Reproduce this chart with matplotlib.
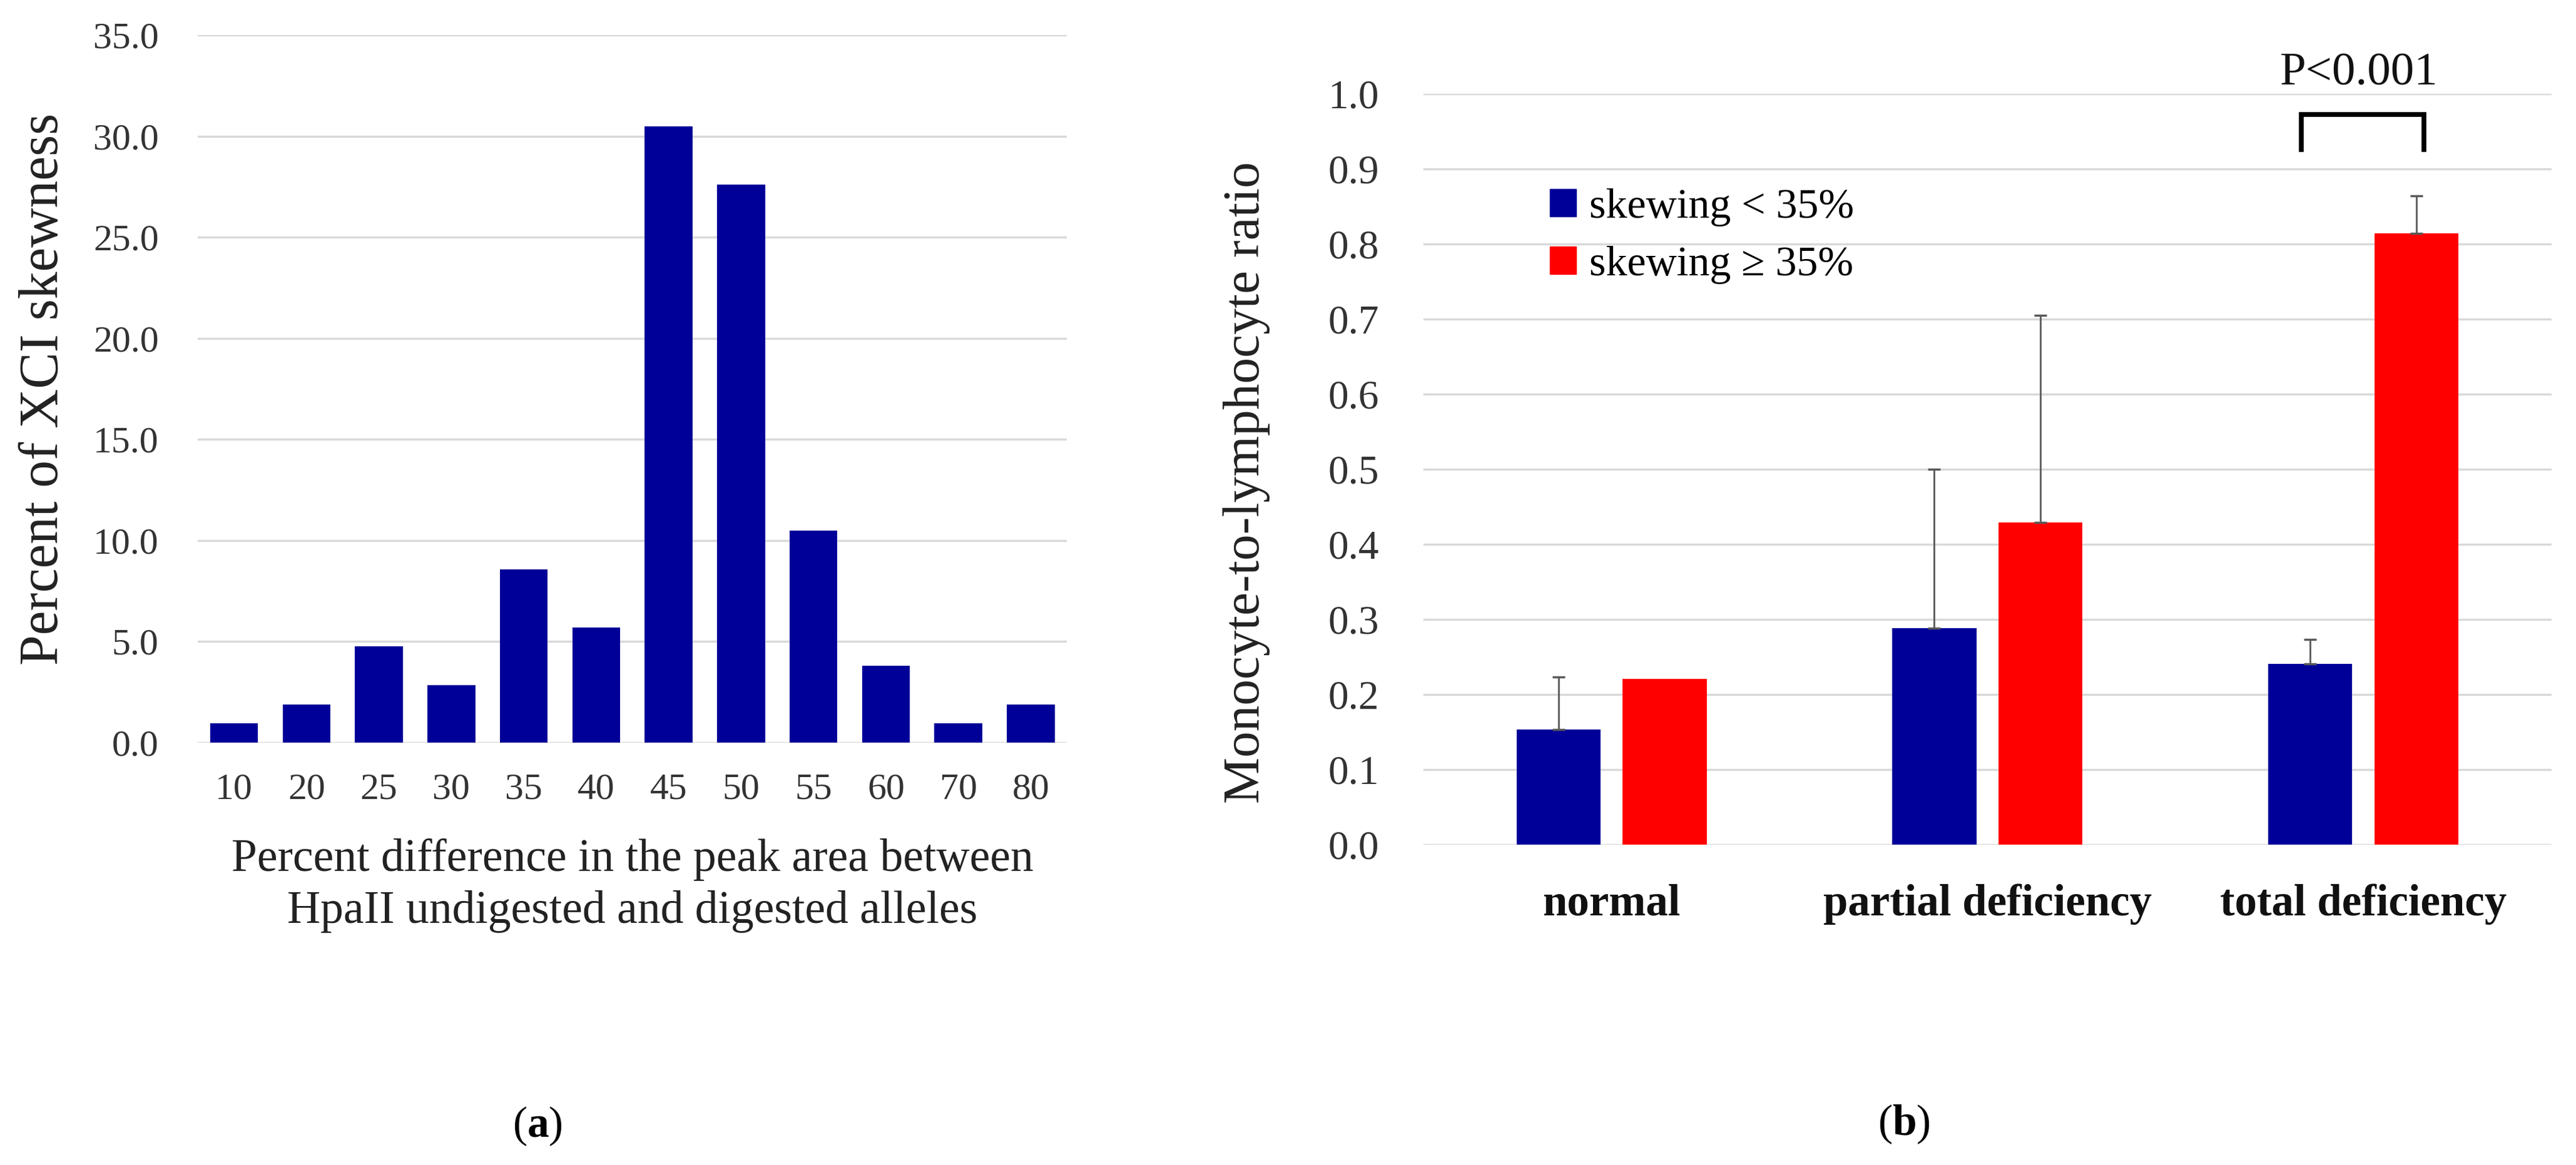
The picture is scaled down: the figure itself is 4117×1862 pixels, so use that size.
import matplotlib
matplotlib.use("Agg")
import matplotlib.pyplot as plt
from matplotlib.patches import Patch
import numpy as np

plt.rcParams['font.family'] = ['Liberation Serif', 'DejaVu Serif']
plt.rcParams['mathtext.fontset'] = 'custom'
plt.rcParams['mathtext.rm'] = 'Liberation Serif'
plt.rcParams['mathtext.bf'] = 'Liberation Serif:bold'

BLUE = '#000099'
RED = '#ff0000'
GRID = '#d9d9d9'

# (a) distribution of XCI skewness
skew_bins = ['10', '20', '25', '30', '35', '40', '45', '50', '55', '60', '70', '80']
skew_pct = [0.95, 1.90, 4.76, 2.86, 8.57, 5.71, 30.48, 27.62, 10.48, 3.81, 0.95, 1.90]

# (b) monocyte-to-lymphocyte ratio by G6PD status
groups = ['normal', 'partial deficiency', 'total deficiency']
low_mean = [0.153, 0.288, 0.241]
low_err = [0.070, 0.212, 0.032]
high_mean = [0.221, 0.429, 0.814]
high_err = [0.0, 0.276, 0.050]
legend_labels = ['skewing < 35%', 'skewing \u2265 35%']
p_text = 'P<0.001'
bracket_x = [1.835, 2.16]
bracket_y = [0.926, 0.972]

fig = plt.figure(figsize=(41.17, 18.62), dpi=100)

# ---- panel a ----
ax1 = fig.add_axes([0.0768, 0.3625, 0.3374, 0.6074])
x1 = np.arange(len(skew_bins))
ax1.bar(x1, skew_pct, width=0.66, color=BLUE)
ax1.set_xlim(-0.5, len(skew_bins) - 0.5)
ax1.set_ylim(0, 35)
ax1.set_yticks(np.arange(0, 35.1, 5))
ax1.set_yticklabels([f'{v:.1f}' for v in np.arange(0, 35.1, 5)])
ax1.set_xticks(x1)
ax1.set_xticklabels(skew_bins)
ax1.set_axisbelow(True)
ax1.yaxis.grid(True, color=GRID, lw=2.5)
for s in ax1.spines.values():
    s.set_visible(False)
ax1.tick_params(axis='both', length=0, labelsize=43, colors='#333333')
ax1.tick_params(axis='y', pad=45)
ax1.tick_params(axis='x', pad=35)
ax1.set_xlabel('Percent difference in the peak area between\nHpaII undigested and digested alleles',
               fontsize=53, linespacing=1.3, color='#222222')
ax1.xaxis.set_label_coords(0.5, -0.135)
ax1.set_ylabel('Percent of XCI skewness', fontsize=63, va='center', color='#222222')
ax1.yaxis.set_label_coords(-0.177, 0.5)

# ---- panel b ----
ax2 = fig.add_axes([0.5526, 0.2750, 0.4379, 0.6445])
x2 = np.arange(len(groups))
w = 0.223
off = 0.1414
ekw = dict(ecolor='#595959', elinewidth=2, capsize=7, capthick=2.5)
ax2.bar(x2 - off, low_mean, width=w, color=BLUE, label=legend_labels[0])
ax2.bar(x2 + off, high_mean, width=w, color=RED, label=legend_labels[1])
ax2.errorbar(x2 - off, low_mean, yerr=[np.zeros(3), low_err], fmt='none', **ekw)
hx = [x + off for x, e in zip(x2, high_err) if e > 0]
hm = [m for m, e in zip(high_mean, high_err) if e > 0]
he = [e for e in high_err if e > 0]
ax2.errorbar(hx, hm, yerr=[np.zeros(len(he)), he], fmt='none', **ekw)
ax2.set_xlim(-0.5, len(groups) - 0.5)
ax2.set_ylim(0, 1.0)
ax2.set_yticks(np.arange(0, 1.01, 0.1))
ax2.set_yticklabels([f'{v:.1f}' for v in np.arange(0, 1.01, 0.1)])
ax2.set_xticks(x2)
ax2.set_xticklabels(groups, fontweight='bold')
ax2.set_axisbelow(True)
ax2.yaxis.grid(True, color=GRID, lw=2.5)
for s in ax2.spines.values():
    s.set_visible(False)
ax2.tick_params(axis='y', length=0, labelsize=47, colors='#333333', pad=51)
ax2.tick_params(axis='x', length=0, labelsize=51, colors='#111111', pad=45)
ax2.set_ylabel('Monocyte-to-lymphocyte ratio', fontsize=60, va='center', color='#222222')
ax2.yaxis.set_label_coords(-0.157, 0.4825)

handles = [Patch(color=BLUE), Patch(color=RED)]
ax2.legend(handles, legend_labels, loc='upper left', bbox_to_anchor=(0.112, 0.874),
           frameon=False, fontsize=49, handlelength=0.62, handleheight=0.62,
           handletextpad=0.3, labelspacing=0.45, borderpad=0, borderaxespad=0)

ax2.plot([bracket_x[0], bracket_x[0], bracket_x[1], bracket_x[1]],
         [bracket_y[0], bracket_y[1], bracket_y[1], bracket_y[0]],
         color='black', lw=5.5, clip_on=False, solid_joinstyle='miter')
ax2.text(np.mean(bracket_x) - 0.01, 1.012, p_text, fontsize=54, ha='center', va='baseline',
         color='#111111', clip_on=False)

fig.text(0.2087, 0.0333, r'($\mathbf{a}$)', fontsize=50, ha='center', va='center')
fig.text(0.739, 0.0349, r'($\mathbf{b}$)', fontsize=50, ha='center', va='center')

fig.savefig('out.png', dpi=100, facecolor='white')
